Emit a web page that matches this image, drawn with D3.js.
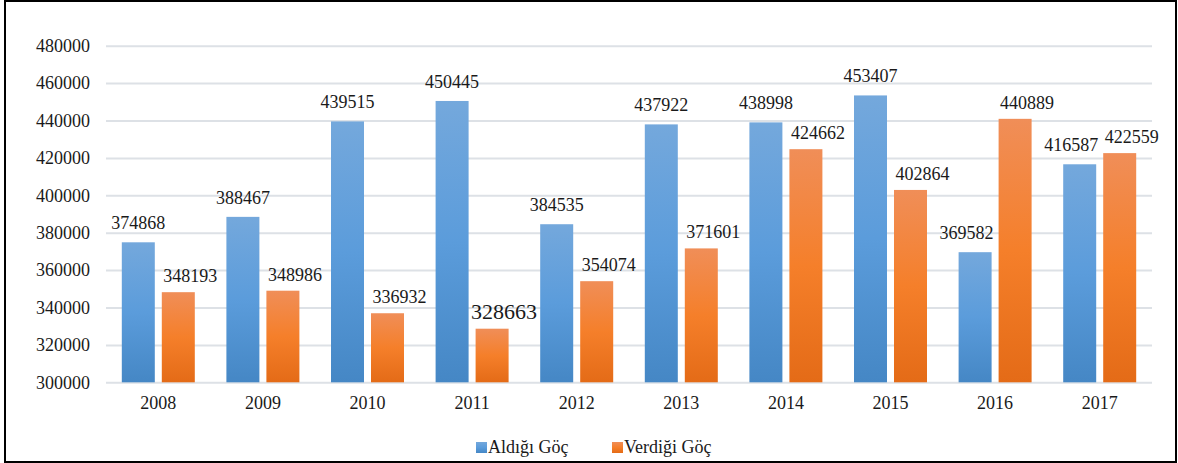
<!DOCTYPE html>
<head>
    <meta charset="utf-8">
    <script src="https://d3js.org/d3.v7.min.js"></script>
    <title>Aldığı / Verdiği Göç</title>
    <style>
        body { margin: 0; background: #fff; }
        svg { display: block; }
        svg text { font-family: "Liberation Serif", "Times New Roman", Times, "DejaVu Serif", serif !important; fill: #1a1a1a; }
        .grid line { stroke: #dde1e6; stroke-width: 2; }
    </style>
</head>

<body>
    <svg id="chart" width="1178" height="463"></svg>
    <script>
        // data
        years = ["2008", "2009", "2010", "2011", "2012", "2013", "2014", "2015", "2016", "2017"]
        aldigi = [374868, 388467, 439515, 450445, 384535, 437922, 438998, 453407, 369582, 416587]
        verdigi = [348193, 348986, 336932, 328663, 354074, 371601, 424662, 402864, 440889, 422559]
        seriesNames = ["Aldığı Göç", "Verdiği Göç"]
        yTicks = [300000, 320000, 340000, 360000, 380000, 400000, 420000, 440000, 460000, 480000]

        margin = ({ top: 45.7, right: 1152, bottom: 382.3, left: 106 })

        var svg = d3.select("#chart")

        // outer frame
        svg.append("rect")
            .attr("x", 5).attr("y", 1)
            .attr("width", 1171).attr("height", 461)
            .attr("fill", "none")
            .attr("stroke", "#000")
            .attr("stroke-width", 2)

        var defs = svg.append("defs")
        var gradStops = {
            blue: ["#74a8dc", "#5b9cdb", "#4587c5"],
            orange: ["#f08e58", "#f57f2a", "#e46b17"]
        }
        Object.keys(gradStops).forEach(function (k) {
            var g = defs.append("linearGradient").attr("id", "grad-" + k)
                .attr("x1", 0).attr("y1", 0).attr("x2", 0).attr("y2", 1)
            gradStops[k].forEach(function (c, i) {
                g.append("stop").attr("offset", (i / 2 * 100) + "%").attr("stop-color", c)
            })
        })

        var x0 = d3.scaleBand().domain(years).range([margin.left, margin.right]).padding(0)
        var x1 = d3.scaleBand().domain(seriesNames).range([0, x0.bandwidth()])
            .paddingInner(0.175).paddingOuter(0.395)
        var y = d3.scaleLinear().domain([300000, 480000]).range([margin.bottom, margin.top])

        // gridlines + y labels
        var yAxis = svg.append("g")
            .attr("class", "grid")
            .attr("transform", `translate(${margin.left},0)`)
            .call(d3.axisLeft(y).tickValues(yTicks).tickFormat(d3.format("d"))
                .tickSize(-(margin.right - margin.left)).tickPadding(16))
        yAxis.select(".domain").remove()
        yAxis.attr("font-family", null)
        yAxis.selectAll("text").attr("font-size", 18)

        // x labels
        var xAxis = svg.append("g")
            .attr("transform", `translate(0,${margin.bottom})`)
            .call(d3.axisBottom(x0).tickSize(0).tickPadding(14))
        xAxis.select(".domain").remove()
        xAxis.attr("font-family", null)
        xAxis.selectAll("text").attr("font-size", 18)

        var rows = years.map(function (yr, i) {
            return { year: yr, values: [aldigi[i], verdigi[i]] }
        })
        var fills = ["url(#grad-blue)", "url(#grad-orange)"]

        var group = svg.append("g").selectAll("g")
            .data(rows)
            .enter().append("g")
            .attr("transform", d => `translate(${x0(d.year)},0)`)

        var cells = group.selectAll("g")
            .data(d => d.values.map((v, j) => ({ year: d.year, name: seriesNames[j], j: j, value: v })))
            .enter().append("g")

        cells.append("rect")
            .attr("x", d => x1(d.name))
            .attr("y", d => y(d.value))
            .attr("width", x1.bandwidth())
            .attr("height", d => y(300000) - y(d.value))
            .attr("fill", d => fills[d.j])

        // orange labels sit a little to the right of their bar, as in the source
        var labels = cells.append("text")
            .attr("class", "vlabel")
            .attr("x", d => x1(d.name) + x1.bandwidth() / 2 + (d.j == 1 ? 12 : 0))
            .attr("y", d => y(d.value) - (d.j == 1 ? 10 : 13))
            .attr("text-anchor", "middle")
            .attr("font-size", d => (d.year == "2011" && d.j == 1) ? 22 : 18)
            .text(d => d.value)

        group.each(function (row) {
            var t = d3.select(this).selectAll("text.vlabel").nodes()
            var a = t[0].getBBox(), b = t[1].getBBox()
            // blue label running into a taller orange bar: slide it left
            var orangeX = x1(seriesNames[1]), orangeTop = y(row.values[1])
            var hitBar = a.x + a.width + 5 - orangeX
            if (hitBar > 0 && a.y + a.height > orangeTop) {
                d3.select(t[0]).attr("x", +d3.select(t[0]).attr("x") - hitBar)
                a = t[0].getBBox()
            }
            // push apart the two labels of a year when they collide
            var overlapX = a.x + a.width + 2 - b.x
            var overlapY = Math.min(a.y + a.height, b.y + b.height) - Math.max(a.y, b.y)
            if (overlapX > 0 && overlapY > 0) {
                d3.select(t[0]).attr("x", +d3.select(t[0]).attr("x") - overlapX * 0.6)
                d3.select(t[1]).attr("x", +d3.select(t[1]).attr("x") + overlapX * 0.4)
            }
        })

        // legend
        var legendX = [476, 612]
        var legend = svg.append("g").selectAll("g")
            .data(seriesNames)
            .enter().append("g")
            .attr("transform", (d, i) => `translate(${legendX[i]},442)`)
        legend.append("rect")
            .attr("width", 11).attr("height", 11)
            .attr("fill", (d, i) => fills[i])
        legend.append("text")
            .attr("x", 12).attr("y", 11)
            .attr("font-size", 18)
            .text(d => d)
    </script>
</body>
